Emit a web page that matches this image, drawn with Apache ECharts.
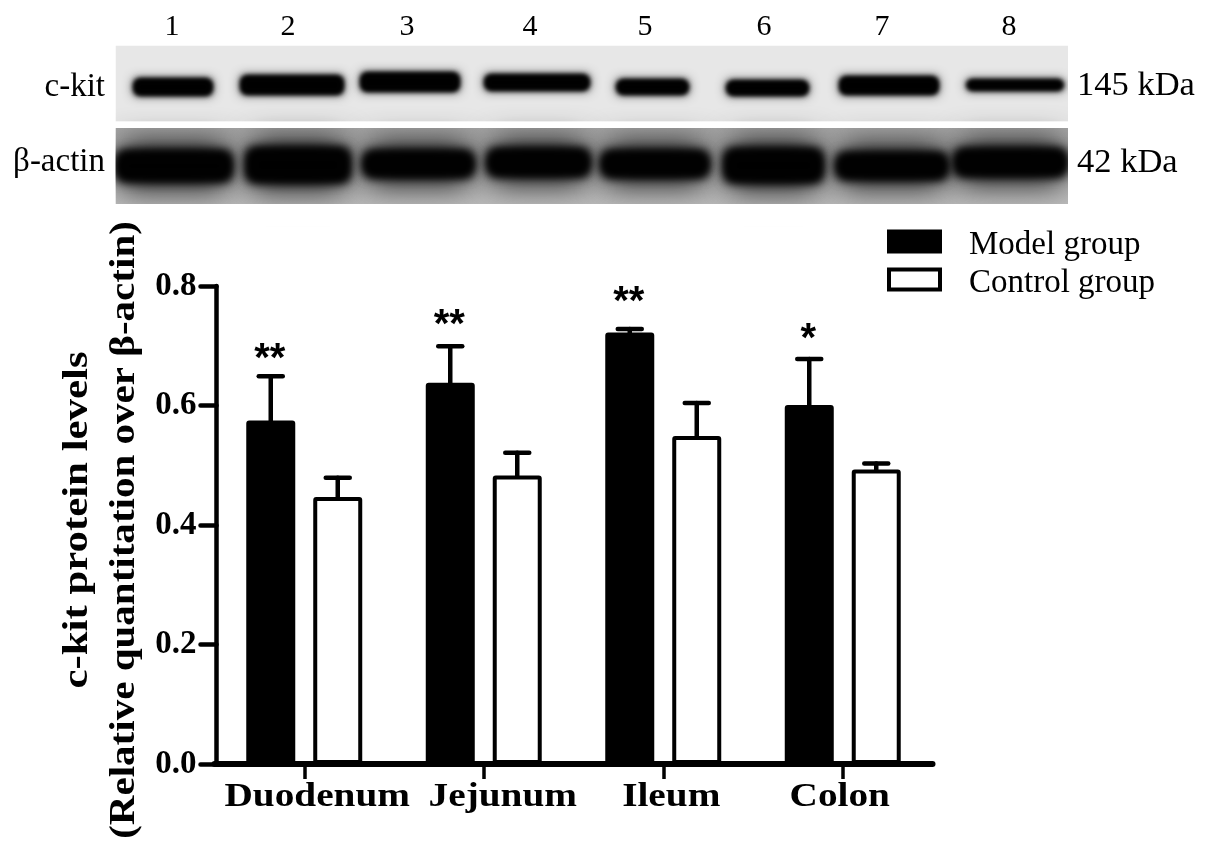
<!DOCTYPE html>
<html><head><meta charset="utf-8">
<style>html,body{margin:0;padding:0;background:#fff}#c{width:1205px;height:849px}</style>
<script src="https://cdn.jsdelivr.net/npm/echarts@6/dist/echarts.min.js"></script>
</head><body><div id="c"></div>
<script>
const categories = ['Duodenum','Jejunum','Ileum','Colon'];
const modelValues = [0.575,0.638,0.722,0.601];
const controlValues = [0.447,0.483,0.549,0.493];
const modelErrorTops = [0.649,0.699,0.728,0.678];
const controlErrorTops = [0.479,0.521,0.604,0.503];
const significance = ['**','**','**','*'];
const significanceLevels = [0.677,0.733,0.772,0.709];
const yTicks = [0,0.2,0.4,0.6,0.8];
const laneLabels = ['1','2','3','4','5','6','7','8'];

const SERIF = '"Liberation Serif","Times New Roman",serif';
const chart = echarts.init(document.getElementById('c'), null, {renderer:'canvas'});

// Western-blot picture, painted as blurred shapes: [x0,x1,y0,y1]
const topBands = [[132,214,77,97],[239,345,74,96],[359,461,71,93],[483,591,73,92],[615,690,78,96],[725,810,79,97],[838,940,75,96],[965,1065,78,92]];
const lowBands = [[115,233,150,182],[245,351,147,183],[362,475,150,178],[486,591,148,177],[600,710,150,178],[723,824,148,183],[835,949,152,180],[953,1068,148,177]];
const OFF=3000;
function blur(box,inset,blurPx,color,z){
  return {type:'rect',z:z,shape:{x:box[0]+inset-OFF,y:box[2]+inset,width:box[1]-box[0]-2*inset,height:box[3]-box[2]-2*inset,r:6},
    style:{fill:'#000',shadowBlur:blurPx,shadowColor:color,shadowOffsetX:OFF}};
}
function blot(){
  const g=[];
  const base=5;
  g.push({type:'rect',z:base,shape:{x:115.5,y:45.5,width:952.5,height:76},style:{fill:'#e7e7e7'}});
  g.push({type:'rect',z:base,shape:{x:115.5,y:128,width:952.5,height:76},
    style:{fill:new echarts.graphic.LinearGradient(0,0,0,1,[{offset:0,color:'#a8a8a8'},{offset:1,color:'#bcbcbc'}])}});
  topBands.forEach(b=>{
    g.push(blur(b,0,10,'rgba(0,0,0,.55)',base+1));
    g.push(blur(b,2,5,'rgba(0,0,0,1)',base+1));
    g.push(blur(b,2,5,'rgba(0,0,0,1)',base+1));
  });
  lowBands.forEach(b=>{
    g.push(blur([b[0]+6,b[1]-6,b[2]-8,b[3]+8],0,30,'rgba(0,0,0,.8)',base+1));
    g.push(blur(b,2,12,'rgba(0,0,0,1)',base+2));
    g.push(blur(b,2,12,'rgba(0,0,0,1)',base+2));
    g.push(blur(b,4,8,'rgba(0,0,0,1)',base+2));
  });
  // masks that trim the blur at the panel edges
  [[0,0,115.5,226],[1068,0,137,226],[115,121.5,955,6.5],[115,204,955,22],[115,0,955,45.5]].forEach(m=>
    g.push({type:'rect',z:base+3,shape:{x:m[0],y:m[1],width:m[2],height:m[3]},style:{fill:'#fff'}}));
  return g;
}
function text(t,x,y,size,opt){
  opt=opt||{};
  return {type:'text',z:20,x:x,y:y,rotation:opt.rotation||0,scaleX:opt.scaleX||1,
    style:{text:t,fill:'#000',font:(opt.bold?'bold ':'')+size+'px '+SERIF,textAlign:opt.align||'center',textVerticalAlign:'middle'}};
}
const laneX=[172,288,407,530,645,764,882,1009];
function staticText(){
  const g=[];
  laneLabels.forEach((l,i)=>g.push(text(l,laneX[i],27,30)));
  g.push(text('c-kit',105,87,33,{align:'right'}));
  g.push(text('β-actin',105,162,33,{align:'right'}));
  g.push(text('145 kDa',1077,86,34.5,{align:'left'}));
  g.push(text('42 kDa',1077,163,34.5,{align:'left'}));
  g.push(text('c-kit protein levels',78,520,36,{bold:true,rotation:Math.PI/2,scaleX:1.19}));
  g.push(text('(Relative quantitation over β-actin)',125,530,36,{bold:true,rotation:Math.PI/2,scaleX:1.14}));
  return g;
}
const BAR_OFFSET=33.5/179.5;
function errorItem(tops,sign){
  return function(params,api){
    const i=api.value(0);
    const band=api.size([1,0])[0];
    const cx=api.coord([i,0])[0]+sign*BAR_OFFSET*band;
    const y0=api.coord([i,api.value(1)])[1];
    const y1=api.coord([i,api.value(2)])[1];
    const st={stroke:'#000',lineWidth:4.5,lineCap:'round'};
    return {type:'group',children:[
      {type:'line',shape:{x1:cx,y1:y0,x2:cx,y2:y1},style:st},
      {type:'line',shape:{x1:cx-12,y1:y1,x2:cx+12,y2:y1},style:st}
    ]};
  };
}
const swatch={borderWidth:4,borderColor:'#000'};
const option={
  animation:false,
  backgroundColor:'#fff',
  legend:{orient:'vertical',left:882,top:224,itemWidth:51,itemHeight:20,itemGap:5,
    selectedMode:false,icon:'rect',
    data:[{name:'Model group',itemStyle:swatch},{name:'Control group',itemStyle:swatch}],
    formatter:name=>'{t|'+name+'}',
    textStyle:{rich:{t:{fontFamily:SERIF,fontSize:33,color:'#000',padding:[8,0,0,24]}}}},
  grid:{left:214.5,top:286,width:718,height:478},
  xAxis:{type:'category',data:categories,z:10,
    axisLine:{lineStyle:{color:'#000',width:6,cap:'round'}},
    axisTick:{show:true,alignWithLabel:true,length:15,lineStyle:{color:'#000',width:3.5}},
    axisLabel:{show:false},splitLine:{show:false}},
  yAxis:{type:'value',min:0,max:0.8,interval:0.2,offset:-2,
    axisLine:{show:true,onZero:false,lineStyle:{color:'#000',width:4.5,cap:'round'}},
    axisTick:{show:true,length:16,lineStyle:{color:'#000',width:4.5,cap:'round'}},
    axisLabel:{margin:20,fontFamily:SERIF,fontWeight:'bold',fontSize:33,color:'#000',
      formatter:v=>yTicks.includes(+v.toFixed(1))?v.toFixed(1):''},
    splitLine:{show:false}},
  series:[
    {name:'Model group',type:'bar',data:modelValues,barWidth:49,barGap:'36.7%',z:3,
      itemStyle:{color:'#000',borderColor:'#000',borderWidth:4,borderRadius:1}},
    {name:'Control group',type:'bar',data:controlValues,barWidth:49,z:3,
      itemStyle:{color:'#fff',borderColor:'#000',borderWidth:4,borderRadius:1}},
    {type:'custom',name:'Model error',z:2,renderItem:errorItem(modelErrorTops,-1),
      data:categories.map((c,i)=>[i,modelValues[i],modelErrorTops[i]]),encode:{x:0,y:[1,2]}},
    {type:'custom',name:'Control error',z:2,renderItem:errorItem(controlErrorTops,1),
      data:categories.map((c,i)=>[i,controlValues[i],controlErrorTops[i]]),encode:{x:0,y:[1,2]}},
    {type:'custom',name:'Significance',z:4,
      renderItem:function(params,api){
        const i=api.value(0);
        const band=api.size([1,0])[0];
        const p=api.coord([i,api.value(1)]);
        return {type:'text',x:p[0]-(BAR_OFFSET*band)-1,y:p[1],
          style:{text:significance[i],font:'bold 40px "Liberation Sans",sans-serif',fill:'#000',textAlign:'center',textVerticalAlign:'middle'}};
      },
      data:categories.map((c,i)=>[i,significanceLevels[i]]),encode:{x:0,y:1}}
  ],
  graphic:{elements:[]}
};
chart.setOption(option);
const labelShift=[13,19,8,-3];
const catText=categories.map((c,i)=>text(c,chart.convertToPixel({xAxisIndex:0},i)+labelShift[i],797,33,{bold:true,scaleX:1.19}));
chart.setOption({graphic:{elements:blot().concat(staticText(),catText)}});
</script></body></html>
